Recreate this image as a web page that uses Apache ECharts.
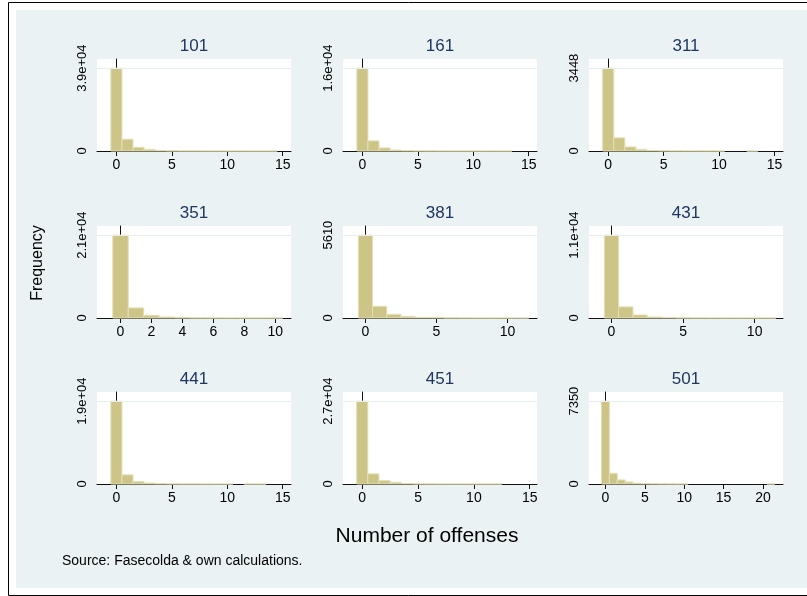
<!doctype html>
<html lang="en" style="height: 100%">
<head>
  <meta charset="utf-8" />
  <script type="text/javascript" src="https://fastly.jsdelivr.net/npm/echarts@6/dist/echarts.min.js"></script>
</head>
<body style="height: 100%; margin: 0">
  <div id="main" style="width: 807px; height: 596px"></div>
  <script type="text/javascript">
    // panels (one histogram per group)
    var panelNames = ['101', '161', '311', '351', '381', '431', '441', '451', '501'];
    var yTop = [39000, 16000, 3448, 21000, 5610, 11000, 19000, 27000, 7350];
    var yTopLabels = ['3.9e+04', '1.6e+04', '3448', '2.1e+04', '5610', '1.1e+04', '1.9e+04', '2.7e+04', '7350'];
    var xTicks = [
      [0, 5, 10, 15], [0, 5, 10, 15], [0, 5, 10, 15],
      [0, 2, 4, 6, 8, 10], [0, 5, 10], [0, 5, 10],
      [0, 5, 10, 15], [0, 5, 10, 15], [0, 5, 10, 15, 20]
    ];

    // frequency by number of offenses (index = offenses)
    var c101 = [39000, 5540, 1740, 790, 260, 110, 55, 30, 18, 10, 6, 4, 3, 2, 1];
    var c161 = [16000, 1950, 590, 190, 70, 30, 15, 8, 5, 3, 2, 1, 1, 1];
    var c311 = [3448, 547, 168, 70, 25, 12, 6, 4, 3, 2, 1, 0, 0, 1];
    var c351 = [21000, 2550, 680, 255, 80, 30, 12, 6, 3, 2, 1];
    var c381 = [5610, 795, 250, 113, 40, 30, 8, 4, 2, 1, 1, 1];
    var c431 = [11000, 1470, 400, 135, 50, 20, 8, 4, 2, 1, 1, 1];
    var c441 = [19000, 2090, 540, 230, 80, 35, 15, 8, 4, 2, 1, 0, 1, 1];
    var c451 = [27000, 3290, 1100, 550, 160, 60, 25, 12, 6, 3, 2, 1, 1];
    var c501 = [7350, 950, 360, 180, 70, 40, 25, 15, 10, 8, 5, 0, 0, 0, 0, 0, 0, 0, 0, 0, 0, 1];
    var counts = [c101, c161, c311, c351, c381, c431, c441, c451, c501];

    var chartDom = document.getElementById('main');
    var myChart = echarts.init(chartDom);
    var option;

    var FONT = "'Liberation Sans', Arial, sans-serif";
    var colLeft = [97, 343, 589];
    var rowTop = [59, 226, 392];
    var plotW = 194, plotH = 92;
    // axis extents as Stata laid them out (with plot-region margin)
    var xRange = [
      [-1.75, 15.75], [-1.75, 15.75], [-1.73, 15.76],
      [-1.52, 11.02], [-1.58, 12.08], [-1.57, 11.98],
      [-1.75, 15.75], [-1.72, 15.65], [-2.09, 22.55]
    ];

    var grids = [], xAxes = [], yAxes = [], series = [], graphics = [];

    graphics.push({ type: 'rect', z: -10, shape: { x: 8.5, y: 2.5, width: 810, height: 593 },
      style: { fill: '#fff', stroke: '#000', lineWidth: 1 } });
    graphics.push({ type: 'rect', z: -9, shape: { x: 16, y: 10, width: 791, height: 578 },
      style: { fill: '#eaf2f3' } });

    panelNames.forEach(function (name, i) {
      var col = i % 3, row = Math.floor(i / 3);
      grids.push({
        left: colLeft[col], top: rowTop[row], width: plotW, height: plotH,
        show: true, backgroundColor: '#fff', borderWidth: 0
      });
      xAxes.push({
        type: 'value', gridIndex: i, min: xRange[i][0], max: xRange[i][1],
        axisLine: { show: true, lineStyle: { color: '#111', width: 1 } },
        axisTick: { show: true, length: 5, customValues: xTicks[i], lineStyle: { color: '#111' } },
        axisLabel: { customValues: xTicks[i], margin: 7, fontSize: 14, color: '#000', fontFamily: FONT },
        splitLine: { show: false }
      });
      yAxes.push({
        type: 'value', gridIndex: i, min: 0, max: yTop[i] * 1.11,
        axisLine: { show: true, lineStyle: { color: '#111', width: 1 } },
        axisTick: { show: true, length: 5, customValues: [0, yTop[i]], lineStyle: { color: '#111' } },
        axisLabel: {
          customValues: [0, yTop[i]], rotate: 90, margin: 8, fontSize: 13, color: '#000', fontFamily: FONT,
          formatter: function (v) { return v === 0 ? '0' : yTopLabels[i]; }
        },
        splitLine: { show: false }
      });
      series.push({
        type: 'custom', xAxisIndex: i, yAxisIndex: i,
        data: counts[i].map(function (v, k) { return [k, v]; }),
        encode: { x: 0, y: 1 },
        renderItem: function (params, api) {
          var x = api.value(0), y = api.value(1);
          if (!y) return;
          var p0 = api.coord([x - 0.5, y]);
          var p1 = api.coord([x + 0.5, 0]);
          return {
            type: 'rect',
            shape: { x: p0[0], y: p0[1], width: p1[0] - p0[0], height: p1[1] - p0[1] },
            style: { fill: '#cdc487', stroke: '#e4dfb6', lineWidth: 1 }
          };
        },
        markLine: {
          silent: true, symbol: 'none', animation: false,
          label: { show: false },
          lineStyle: { color: '#e6eef0', type: 'solid', width: 1 },
          data: [{ yAxis: yTop[i] }]
        },
        z: 1
      });
      graphics.push({
        type: 'text', x: colLeft[col] + plotW / 2, y: rowTop[row] - 13,
        style: { text: name, fontSize: 17, fill: '#1f3562', fontFamily: FONT, align: 'center', verticalAlign: 'middle' }
      });
    });

    graphics.push({
      type: 'text', x: 38, y: 263, rotation: Math.PI / 2,
      style: { text: 'Frequency', fontSize: 16, fill: '#000', fontFamily: FONT, align: 'center', verticalAlign: 'middle' }
    });
    graphics.push({
      type: 'text', x: 427, y: 536,
      style: { text: 'Number of offenses', fontSize: 21, fill: '#000', fontFamily: FONT, align: 'center', verticalAlign: 'middle' }
    });
    graphics.push({
      type: 'text', x: 62, y: 561,
      style: { text: 'Source: Fasecolda & own calculations.', fontSize: 14, fill: '#000', fontFamily: FONT, align: 'left', verticalAlign: 'middle' }
    });

    option = {
      backgroundColor: '#fff',
      animation: false,
      grid: grids,
      xAxis: xAxes,
      yAxis: yAxes,
      series: series,
      graphic: graphics
    };
    option && myChart.setOption(option);
  </script>
</body>
</html>
